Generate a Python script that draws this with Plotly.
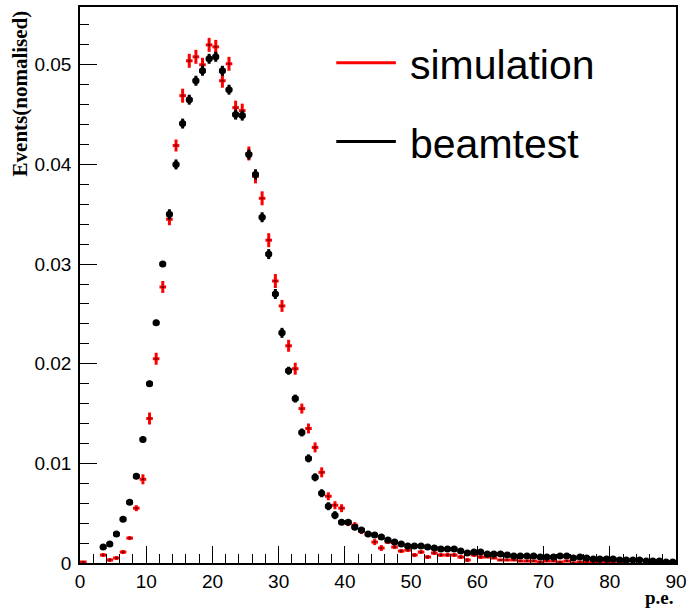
import plotly.graph_objects as go

# Bin centres (1 p.e. bins from 0 to 90)
bin_centers = [i + 0.5 for i in range(90)]
bin_half_width = 0.5

# beamtest (black)
beamtest = [None, None, None, 0.0016, 0.0019, 0.0029, 0.0044, 0.0061, 0.0087, 0.0124,
            0.0180, 0.0241, 0.0300, 0.0350, 0.0400, 0.0441, 0.0465, 0.0484, 0.0494, 0.0506,
            0.0508, 0.0494, 0.0475, 0.0450, 0.0449, 0.0410, 0.0390, 0.0347, 0.0310, 0.0270,
            0.0231, 0.0193, 0.0165, 0.0131, 0.0105, 0.0086, 0.0070, 0.0057, 0.0048, 0.0041,
            0.0041, 0.0036, 0.0033, 0.0029, 0.0028, 0.0026, 0.0023, 0.0021, 0.0019, 0.0017,
            0.0017, 0.0017, 0.0016, 0.0015, 0.0014, 0.0014, 0.0014, 0.0012, 0.0010, 0.0011,
            0.0011, 0.0009, 0.0009, 0.0009, 0.0008, 0.0007, 0.0007, 0.0007, 0.0007, 0.0006,
            0.0006, 0.0006, 0.0007, 0.0007, 0.0005, 0.0006, 0.0005, 0.0004, 0.0004, 0.0004,
            0.0004, 0.0003, 0.0003, 0.0003, 0.0003, 0.0002, 0.0002, 0.0002, 0.0001, 0.0001]
beamtest_err = [0, 0, 0, 0.0002, 0.0002, 0.0002, 0.0002, 0.0002, 0.0002, 0.0003,
                0.0003, 0.0003, 0.0003, 0.0005, 0.0005, 0.0005, 0.0005, 0.0005, 0.0005, 0.0005,
                0.0005, 0.0005, 0.0005, 0.0005, 0.0005, 0.0005, 0.0005, 0.0005, 0.0005, 0.0005,
                0.0005, 0.0004, 0.0004, 0.0004, 0.0004, 0.0004, 0.0004, 0.0004, 0.0004, 0.0002,
                0.0002, 0.0002, 0.0002, 0.0002, 0.0002, 0.0002, 0.0002, 0.0002, 0.0002, 0.0002,
                0.0002, 0.0001, 0.0001, 0.0001, 0.0001, 0.0001, 0.0001, 0.0001, 0.0001, 0.0001,
                0.0001, 0.0001, 0.0001, 0.0001, 0.0001, 0.0001, 0.0001, 0.0001, 0.0001, 0.0001,
                0.0001, 0.0001, 0.0001, 0.0001, 0.0001, 0.0001, 0.0001, 0.0001, 0.0001, 0.0001,
                0.0001, 0.0001, 0.0001, 0.0001, 0.0001, 0.0001, 0.0001, 0.0001, 0.0001, 0.0001]

# simulation (red)
simulation = [0.0001, None, None, 0.0008, 0.0003, 0.0005, 0.0011, 0.0025, 0.0055, 0.0084,
              0.0145, 0.0205, 0.0277, 0.0345, 0.0419, 0.0469, 0.0504, 0.0508, 0.0500, 0.0520,
              0.0518, 0.0484, 0.0501, 0.0457, 0.0454, 0.0411, 0.0388, 0.0366, 0.0324, 0.0283,
              0.0258, 0.0218, 0.0195, 0.0155, 0.0135, 0.0116, 0.0091, 0.0067, 0.0058, 0.0055,
              0.0040, 0.0038, 0.0032, 0.0029, 0.0021, 0.0015, 0.0021, 0.0016, 0.0012, 0.0013,
              0.0008, 0.0011, 0.0006, 0.0010, 0.0008, 0.0008, 0.0008, 0.0006, 0.0003, 0.0008,
              0.0006, 0.0006, 0.0005, 0.0003, 0.0003, 0.0003, 0.0002, 0.0002, 0.0002, 0.0001,
              0.0002, 0.0002, 0.0001, 0.0002, 0.0000, 0.0001, 0.0001, 0.0001, 0.0001, 0.0001,
              0.0001, 0.0000, 0.0000, None, None, 0.0000, 0.0000, 0.0000, 0.0000, None]
simulation_err = [0, 0, 0, 0.0002, 0.0002, 0.0002, 0.0002, 0.0002, 0.0003, 0.0005,
                  0.0006, 0.0006, 0.0006, 0.0006, 0.0006, 0.0007, 0.0007, 0.0007, 0.0007, 0.0007,
                  0.0007, 0.0007, 0.0007, 0.0007, 0.0007, 0.0007, 0.0007, 0.0007, 0.0007, 0.0007,
                  0.0006, 0.0006, 0.0006, 0.0005, 0.0005, 0.0005, 0.0005, 0.0004, 0.0004, 0.0004,
                  0.0003, 0.0003, 0.0003, 0.0003, 0.0003, 0.0003, 0.0002, 0.0002, 0.0002, 0.0002,
                  0.0002, 0.0002, 0.0002, 0.0002, 0.0002, 0.0002, 0.0002, 0.0002, 0.0002, 0.0002,
                  0.0002, 0.0001, 0.0001, 0.0001, 0.0001, 0.0001, 0.0001, 0.0001, 0.0001, 0.0001,
                  0.0001, 0.0001, 0.0001, 0.0001, 0.0001, 0.0001, 0.0001, 0.0001, 0.0001, 0.0001,
                  0.0001, 0.0, 0.0, 0, 0, 0.0, 0.0, 0.0, 0.0, 0]

x_tick_vals = [0, 10, 20, 30, 40, 50, 60, 70, 80, 90]
y_tick_vals = [0, 0.01, 0.02, 0.03, 0.04, 0.05]
y_tick_text = ["0", "0.01", "0.02", "0.03", "0.04", "0.05"]

fig = go.Figure()

fig.add_trace(go.Scatter(
    x=bin_centers, y=simulation, mode="markers", name="simulation",
    marker=dict(color="#5a0000", size=2, symbol="square"),
    error_y=dict(type="data", array=simulation_err, color="#ff0000", thickness=3, width=0),
    error_x=dict(type="constant", value=bin_half_width, color="#ff0000", thickness=3, width=0),
    cliponaxis=True,
))
fig.add_trace(go.Scatter(
    x=bin_centers, y=beamtest, mode="markers", name="beamtest",
    marker=dict(color="#000000", size=7, symbol="circle"),
    error_y=dict(type="data", array=beamtest_err, color="#000000", thickness=3, width=0),
    error_x=dict(type="constant", value=bin_half_width, color="#000000", thickness=4, width=0),
    cliponaxis=True,
))

W, H = 692, 610
ml, mr, mt, mb = 80, 12, 5, 47
pw = W - ml - mr
ph = H - mt - mb

def px_x(p):
    return (p - ml) / pw

def px_y(p):
    return (H - mb - p) / ph

fig.update_layout(
    width=W, height=H,
    margin=dict(l=ml, r=mr, t=mt, b=mb),
    plot_bgcolor="white", paper_bgcolor="white",
    showlegend=False,
    font=dict(family="Liberation Sans, Arial, sans-serif", color="black", size=19),
    xaxis=dict(
        range=[0, 90], tickvals=x_tick_vals, ticks="inside", ticklen=17, tickwidth=1,
        tickcolor="black", showgrid=False, zeroline=False, showline=True, linecolor="black",
        linewidth=1.5, mirror=True, tickfont=dict(size=19),
        minor=dict(dtick=2, ticks="inside", ticklen=9, tickcolor="black", showgrid=False),
    ),
    yaxis=dict(
        range=[0, 0.0558], tickvals=y_tick_vals, ticktext=y_tick_text, ticks="inside",
        ticklen=17, tickwidth=1, tickcolor="black", showgrid=False, zeroline=False,
        showline=True, linecolor="black", linewidth=1.5, mirror=True, tickfont=dict(size=19),
        ticklabelstandoff=3,
        minor=dict(dtick=0.002, ticks="inside", ticklen=9, tickcolor="black", showgrid=False),
    ),
)

# Axis titles (ROOT style, right/top aligned)
fig.add_annotation(text="<b>p.e.</b>", xref="paper", yref="paper", x=1.0, y=px_y(598),
                   xanchor="right", yanchor="middle", showarrow=False,
                   font=dict(family="Liberation Serif, Times New Roman, serif", size=19))
fig.add_annotation(text="<b>Events(nomalised)</b>", xref="paper", yref="paper",
                   x=px_x(20), y=px_y(6), xanchor="center", yanchor="top", textangle=-90,
                   showarrow=False,
                   font=dict(family="Liberation Serif, Times New Roman, serif", size=21))

# Legend (drawn manually, ROOT TLegend style)
legend_items = [("simulation", "#ff0000", 61), ("beamtest", "#000000", 140)]
for label, col, ypix in legend_items:
    fig.add_shape(type="line", xref="paper", yref="paper",
                  x0=px_x(338), x1=px_x(398), y0=px_y(ypix), y1=px_y(ypix),
                  line=dict(color=col, width=3))
    fig.add_annotation(text=label, xref="paper", yref="paper", x=px_x(410), y=px_y(ypix + 2),
                       xanchor="left", yanchor="middle", showarrow=False,
                       font=dict(family="Liberation Sans, Arial, sans-serif", size=41))

fig.write_html("out.html", config={"displayModeBar": False},
               post_script="document.body.style.margin='0';")
